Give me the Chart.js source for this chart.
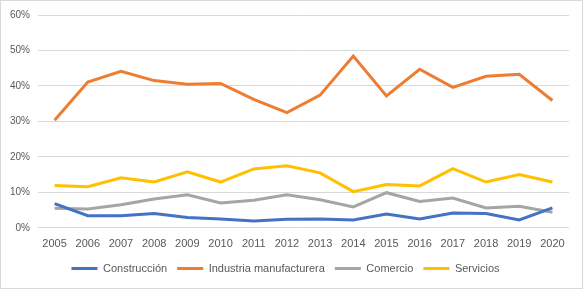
<!DOCTYPE html>
<html>
<head>
<meta charset="utf-8">
<script src="https://cdn.jsdelivr.net/npm/chart.js@4/dist/chart.umd.min.js"></script>
<style>
html,body{margin:0;padding:0;background:#fff;}
#wrap{position:relative;width:581px;height:287px;border:1px solid #d9d9d9;}
canvas{display:block;}
</style>
</head>
<body>
<div id="wrap"><canvas id="c" width="581" height="287"></canvas></div>
<script>
const years = ['2005','2006','2007','2008','2009','2010','2011','2012','2013','2014','2015','2016','2017','2018','2019','2020'];
const construccion = [6.8,3.4,3.4,4.0,2.9,2.5,1.9,2.4,2.5,2.2,3.9,2.5,4.2,4.0,2.2,5.6];
const industria = [30.3,41.1,44.1,41.5,40.5,40.7,36.2,32.5,37.4,48.4,37.2,44.7,39.6,42.7,43.3,35.9];
const comercio = [5.5,5.3,6.5,8.1,9.3,7.0,7.8,9.3,7.9,5.9,9.9,7.4,8.4,5.6,6.1,4.4];
const servicios = [11.9,11.6,14.1,12.9,15.8,12.9,16.6,17.5,15.5,10.2,12.2,11.8,16.7,12.9,15.0,12.9];
const seriesNames = ['Construcción','Industria manufacturera','Comercio','Servicios'];
const colors = ['#4472C4','#ED7D31','#A5A5A5','#FFC000'];
const yTicks = [0,10,20,30,40,50,60];

const all = [construccion, industria, comercio, servicios];
const datasets = all.map((d,i)=>({
  label: seriesNames[i],
  data: d,
  borderColor: colors[i],
  backgroundColor: colors[i],
  borderWidth: 3,
  pointRadius: 0,
  tension: 0,
  pointStyle: 'line'
}));
const fontY = { family: 'Liberation Sans, Arial, sans-serif', size: 10 };
const fontX = { family: 'Liberation Sans, Arial, sans-serif', size: 11 };

new Chart(document.getElementById('c'), {
  type: 'line',
  data: { labels: years, datasets: datasets },
  options: {
    responsive: false,
    animation: false,
    layout: { padding: { left: 1, right: 13, top: 4, bottom: 4 } },
    plugins: {
      tooltip: { enabled: false },
      legend: {
        position: 'bottom',
        labels: {
          usePointStyle: true,
          pointStyleWidth: 26,
          color: '#595959',
          font: fontX,
          padding: 10,
          boxHeight: 3
        }
      }
    },
    scales: {
      x: {
        offset: true,
        grid: { display: false },
        border: { display: false },
        ticks: { color: '#595959', font: fontX, maxRotation: 0, autoSkip: false, padding: 2 }
      },
      y: {
        min: 0, max: 60,
        afterBuildTicks: (s)=>{ s.ticks = yTicks.map(v=>({value:v})); },
        grid: { color: '#d9d9d9', lineWidth: 1, drawTicks: false },
        border: { display: false },
        ticks: { color: '#595959', font: fontY, padding: 8, callback: v => v + '%' }
      }
    }
  }
});
</script>
</body>
</html>
